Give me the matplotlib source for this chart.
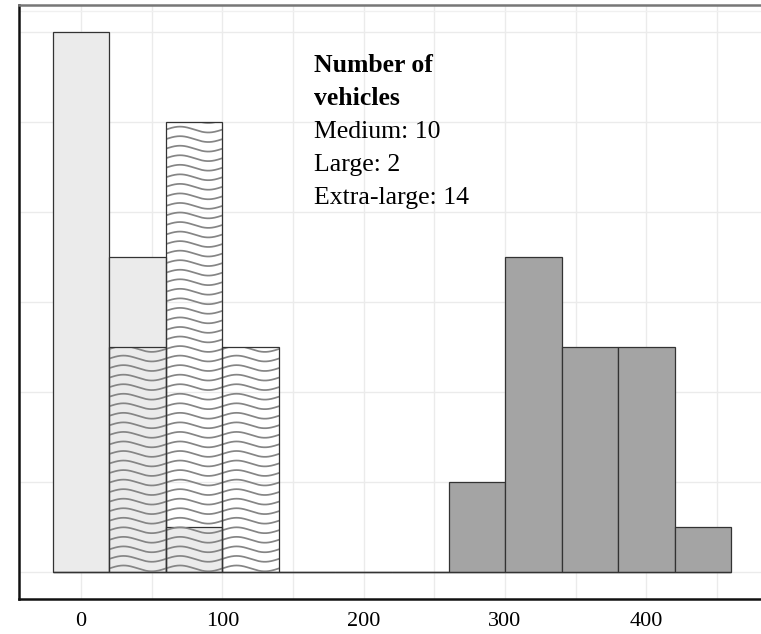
"""Overlapping histograms of three vehicle groups with a wavy-pattern series."""

import numpy as np
import matplotlib

matplotlib.use("Agg")
import matplotlib.pyplot as plt
from matplotlib.patches import Rectangle

# bin centres (width 40) and counts per group
bin_centres = [0, 40, 80, 120, 160, 200, 240, 280, 320, 360, 400, 440]
bin_width = 40
light_counts = [12, 7, 1, 0, 0, 0, 0, 0, 0, 0, 0, 0]
wavy_counts = [0, 5, 10, 5, 0, 0, 0, 0, 0, 0, 0, 0]
dark_counts = [0, 0, 0, 0, 0, 0, 0, 2, 7, 5, 5, 1]

x_ticks = [0, 100, 200, 300, 400]
note_title = ["Number of", "vehicles"]
note_lines = ["Medium: 10", "Large: 2", "Extra-large: 14"]

SERIF = ["Liberation Serif", "DejaVu Serif"]
EDGE = "#333333"

fig = plt.figure(figsize=(7.61, 6.34), dpi=100)
ax = fig.add_axes([19 / 761, 35 / 634, 746 / 761, 594 / 634])
ax.set_xlim(-44, 484)
ax.set_ylim(-0.6, 12.6)

# grid
for gx in np.arange(0, 451, 50):
    ax.axvline(gx, color="#ebebeb", lw=1.0, zorder=0)
for gy in np.arange(0, 13, 2):
    ax.axhline(gy, color="#ebebeb", lw=1.0, zorder=0)
ax.axhline(12.47, color="#f0f0f0", lw=1.0, zorder=0)

ax.bar(bin_centres, light_counts, width=bin_width, color="#ebebeb",
       edgecolor=EDGE, linewidth=0.9, zorder=2)
ax.bar(bin_centres, dark_counts, width=bin_width, color="#a4a4a4",
       edgecolor=EDGE, linewidth=0.9, zorder=2)

# wavy pattern bars: transparent fill, sine lines clipped to each bar
wave_x = np.linspace(-20, 180, 600)
wave_step = 0.212
wave_amp = 0.065
for cx, h in zip(bin_centres, wavy_counts):
    rect = Rectangle((cx - bin_width / 2, 0), bin_width, h, facecolor="none",
                     edgecolor=EDGE, linewidth=0.9, zorder=4)
    ax.add_patch(rect)
    if h == 0:
        continue
    for y0 in np.arange(0.08, h + wave_step, wave_step):
        wy = y0 + wave_amp * np.sin(2 * np.pi * (wave_x + 20) / bin_width)
        (ln,) = ax.plot(wave_x, wy, color="#858585", lw=1.25, zorder=3,
                        solid_capstyle="butt")
        ln.set_clip_path(rect)

# annotation: x in data units, y in axes fraction
trans = ax.get_xaxis_transform()
base = 0.887
step = 0.0556
for i, s in enumerate(note_title):
    ax.text(164.5, base - step * i, s, transform=trans, fontsize=18.5,
            family=SERIF, weight="bold", va="baseline", ha="left")
for i, s in enumerate(note_lines):
    ax.text(164.5, base - step * (i + 2), s, transform=trans,
            fontsize=18.5, family=SERIF, va="baseline", ha="left")

ax.set_xticks(x_ticks)
ax.set_xticklabels([str(v) for v in x_ticks], family=SERIF, fontsize=16)
ax.set_yticks([])
ax.tick_params(axis="x", length=0, pad=9)

for side in ("left", "bottom"):
    ax.spines[side].set_color("#111111")
    ax.spines[side].set_linewidth(1.8)
ax.spines["top"].set_color("#777777")
ax.spines["top"].set_linewidth(1.8)
ax.spines["right"].set_visible(False)

fig.savefig("out.png", dpi=100)
